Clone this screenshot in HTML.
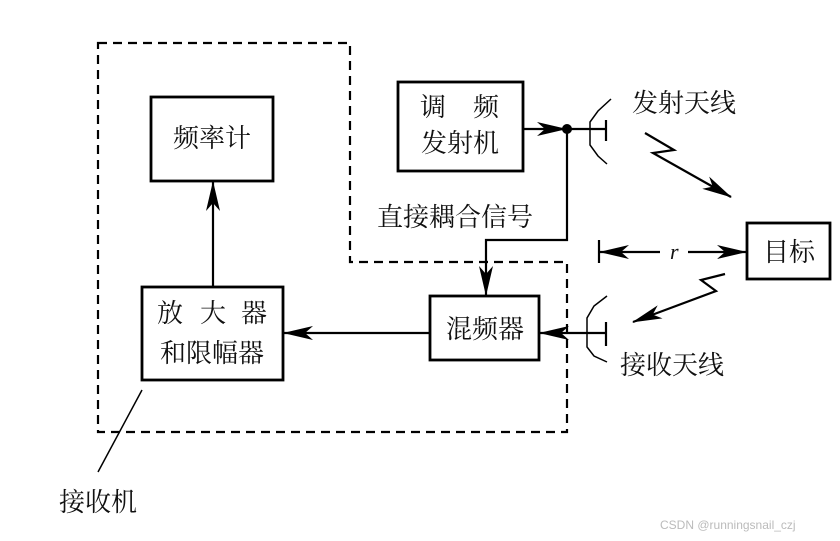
<!DOCTYPE html>
<html><head><meta charset="utf-8"><style>
html,body{margin:0;padding:0;background:#fff;width:840px;height:541px;overflow:hidden}
svg text{font-family:"Liberation Serif","Noto Serif CJK SC","Noto Sans CJK SC",serif;fill:#111}
</style></head><body>
<svg width="840" height="541" viewBox="0 0 840 541" xmlns="http://www.w3.org/2000/svg">
<defs>
<marker id="a" markerWidth="30" markerHeight="14" refX="29" refY="7" orient="auto" markerUnits="userSpaceOnUse">
<path d="M0,0 L30,7 L0,14 L8,7 Z" fill="#000"/></marker>
</defs>
<g fill="none" stroke="#000" stroke-width="2.2">
<path d="M98,43 H350 V262 H567 V432 H98 Z" stroke-dasharray="9,6"/>
<rect x="151" y="97" width="122" height="84" stroke-width="2.8"/>
<rect x="142" y="287" width="141" height="93" stroke-width="2.8"/>
<rect x="398" y="82" width="125" height="89" stroke-width="2.8"/>
<rect x="430" y="296" width="109" height="64" stroke-width="2.8"/>
<rect x="747" y="223" width="83" height="56" stroke-width="2.8"/>
<line x1="213" y1="287" x2="213" y2="182" marker-end="url(#a)"/>
<line x1="430" y1="333" x2="284" y2="333" marker-end="url(#a)"/>
<line x1="523" y1="129" x2="566" y2="129" marker-end="url(#a)"/>
<line x1="567" y1="129" x2="606" y2="129"/>
<line x1="606" y1="120" x2="606" y2="141"/>
<path d="M611,99 L598,111 L590,122 L590,145 L598,156 L607,164" stroke-width="1.5"/>
<path d="M567,129 V240 H486 V295" marker-end="url(#a)"/>
<line x1="606" y1="333" x2="540" y2="333" marker-end="url(#a)"/>
<line x1="606" y1="322" x2="606" y2="346"/>
<path d="M607,296 L594,306 L587,318 L587,347 L594,356 L607,362" stroke-width="1.5"/>
<line x1="599" y1="240" x2="599" y2="263"/>
<line x1="660" y1="252" x2="600" y2="252" marker-end="url(#a)"/>
<line x1="688" y1="252" x2="746" y2="252" marker-end="url(#a)"/>
<path d="M645,133 L674,150 L653,153 L731,197" marker-end="url(#a)"/>
<path d="M725,274 L701,280 L716,291 L633,322" marker-end="url(#a)"/>
<line x1="142" y1="390" x2="98" y2="472" stroke-width="1.5"/>
</g>
<circle cx="567" cy="129" r="5" fill="#000"/>
<g font-size="26">
<text x="212" y="147" text-anchor="middle">频率计</text>
<text x="157" y="322">放</text><text x="200" y="322">大</text><text x="241" y="322">器</text>
<text x="212" y="362" text-anchor="middle">和限幅器</text>
<text x="420" y="116">调</text><text x="473" y="116">频</text>
<text x="460" y="152" text-anchor="middle">发射机</text>
<text x="485" y="338" text-anchor="middle">混频器</text>
<text x="789" y="261" text-anchor="middle">目标</text>
<text x="377" y="226">直接耦合信号</text>
<text x="632" y="112">发射天线</text>
<text x="620" y="374">接收天线</text>
<text x="59" y="511">接收机</text>
<text x="670" y="259" font-style="italic" font-size="22">r</text>
</g>
<text x="660" y="529" font-size="12" style="font-family:'Liberation Sans',sans-serif;fill:#bbb">CSDN @runningsnail_czj</text>
</svg>
</body></html>
